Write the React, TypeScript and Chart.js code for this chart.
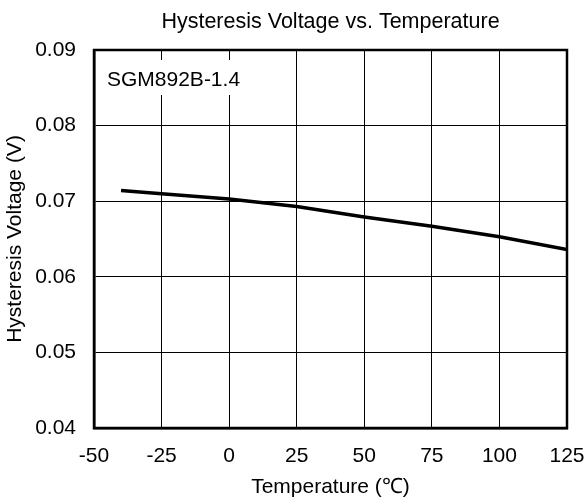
import React, { useEffect, useRef } from "react";
import { Chart, registerables } from "chart.js";

Chart.register(...registerables);

const temperatures = [-40, -25, 0, 25, 50, 75, 100, 125];
const hysteresis = [0.0714, 0.071, 0.0703, 0.0693, 0.0679, 0.0667, 0.0653, 0.0636];
const xTicks = [-50, -25, 0, 25, 50, 75, 100, 125];
const yTicks = [0.04, 0.05, 0.06, 0.07, 0.08, 0.09];
const chartTitle = "Hysteresis Voltage vs. Temperature";
const xTitle = "Temperature (℃)";
const yTitle = "Hysteresis Voltage (V)";
const deviceLabel = "SGM892B-1.4";

const FONT = "'Liberation Sans', Arial, sans-serif";

const framePlugin = {
  id: "frame",
  afterDatasetsDraw(chart: any) {
    const { ctx, chartArea } = chart;
    ctx.save();
    ctx.fillStyle = "#fff";
    ctx.fillRect(chartArea.left + 6, chartArea.top + 10, 148, 35);
    ctx.strokeStyle = "#000";
    ctx.lineWidth = 2.5;
    ctx.strokeRect(chartArea.left, chartArea.top, chartArea.right - chartArea.left, chartArea.bottom - chartArea.top);
    ctx.fillStyle = "#000";
    ctx.font = `21px ${FONT}`;
    ctx.textBaseline = "alphabetic";
    ctx.textAlign = "left";
    ctx.fillText(deviceLabel, chartArea.left + 13, chartArea.top + 36);
    ctx.font = `21.5px ${FONT}`;
    ctx.textAlign = "center";
    ctx.fillText(chartTitle, (chartArea.left + chartArea.right) / 2, 28);
    ctx.restore();
  },
};

export default function App() {
  const ref = useRef<HTMLCanvasElement | null>(null);
  useEffect(() => {
    document.body.style.margin = "0";
    const canvas = ref.current!;
    const chart = new Chart(canvas, {
      type: "scatter",
      data: {
        datasets: [
          {
            data: temperatures.map((t, i) => ({ x: t, y: hysteresis[i] })),
            showLine: true,
            borderColor: "#000",
            borderWidth: 3.5,
            pointRadius: 0,
            tension: 0,
          },
        ],
      },
      options: {
        animation: false,
        responsive: false,
        maintainAspectRatio: false,
        layout: { padding: { left: 0, right: 18, top: 50, bottom: 0 } },
        plugins: {
          legend: { display: false },
          tooltip: { enabled: false },
          title: { display: false },
        },
        scales: {
          x: {
            type: "linear",
            min: xTicks[0],
            max: xTicks[xTicks.length - 1],
            afterFit: (s: any) => {
              s.height = 72;
              s.paddingLeft = 0;
              s.paddingRight = 0;
            },
            afterBuildTicks: (s: any) => {
              s.ticks = xTicks.map((v) => ({ value: v }));
            },
            ticks: {
              color: "#000",
              font: { family: FONT, size: 21 },
              padding: 16,
              maxRotation: 0,
              callback: (v: any) => String(v),
            },
            grid: { color: "#000", lineWidth: 1, drawTicks: false },
            border: { color: "#000", width: 2.5 },
            title: {
              display: true,
              text: xTitle,
              color: "#000",
              font: { family: FONT, size: 21 },
              padding: { top: 0, bottom: 0 },
            },
          },
          y: {
            type: "linear",
            min: yTicks[0],
            max: yTicks[yTicks.length - 1],
            afterFit: (s: any) => {
              s.width = 94;
              s.paddingTop = 0;
              s.paddingBottom = 0;
            },
            afterBuildTicks: (s: any) => {
              s.ticks = yTicks.map((v) => ({ value: v }));
            },
            ticks: {
              color: "#000",
              font: { family: FONT, size: 21 },
              padding: 18,
              callback: (v: any) => Number(v).toFixed(2),
            },
            grid: { color: "#000", lineWidth: 1, drawTicks: false },
            border: { color: "#000", width: 2.5 },
            title: {
              display: true,
              text: yTitle,
              color: "#000",
              font: { family: FONT, size: 21 },
              padding: { top: 3, bottom: 0 },
            },
          },
        },
      },
      plugins: [framePlugin],
    });
    return () => chart.destroy();
  }, []);
  return (
    <div style={{ position: "absolute", left: 0, top: 0, width: 585, height: 500, background: "#fff" }}>
      <canvas ref={ref} width={585} height={500} />
    </div>
  );
}
